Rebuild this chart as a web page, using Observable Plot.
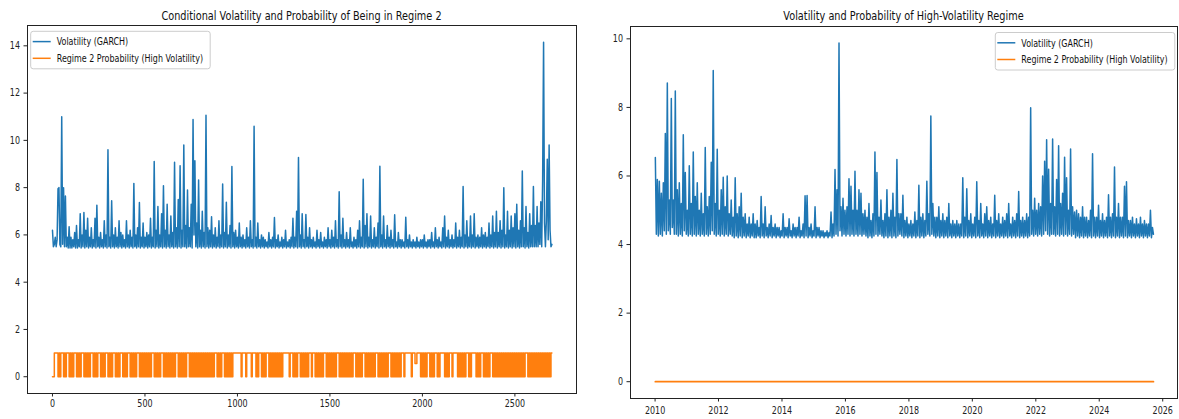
<!DOCTYPE html>
<html><head><meta charset="utf-8">
<script src="https://cdn.jsdelivr.net/npm/d3@7"></script>
<script src="https://cdn.jsdelivr.net/npm/@observablehq/plot@0.6"></script>
<style>
html,body{margin:0;padding:0;background:#fff;}
#wrap{position:relative;width:1179px;height:419px;overflow:hidden;background:#fff;font-family:"DejaVu Sans",sans-serif;}
#wrap > svg{position:absolute;top:0;}
</style></head><body><div id="wrap"></div>
<script>
// ---------- texts ----------
const leftTitle = "Conditional Volatility and Probability of Being in Regime 2";
const rightTitle = "Volatility and Probability of High-Volatility Regime";
const seriesNames = ["Volatility (GARCH)", "Regime 2 Probability (High Volatility)"];
const seriesColors = ["#1f77b4", "#ff7f0e"];

// ---------- left panel: observation index (every 5th obs) ----------
const leftXTicks = [0, 500, 1000, 1500, 2000, 2500];
const leftYTicks = [0, 2, 4, 6, 8, 10, 12, 14];
const leftStep = 5;
const leftVolatility = [
6.2,5.5,5.6,5.9,5.5,5.8,7.95,8.0,5.6,5.5,11.0,5.6,8.0,5.5,7.65,5.5,5.9,5.45,6.35,5.45,
5.9,5.45,5.8,5.5,6.1,5.45,6.4,5.45,5.8,5.5,6.9,5.45,6.0,5.5,6.95,5.45,6.2,5.5,6.7,5.45,
5.9,5.5,6.3,5.45,5.8,5.5,6.7,5.45,7.26,5.5,5.9,5.45,6.1,5.5,5.8,5.45,6.6,5.5,6.0,5.45,
9.6,5.5,5.9,5.45,7.44,5.5,6.0,5.45,6.3,5.5,5.9,5.45,6.6,5.5,6.1,5.45,6.0,5.5,5.8,5.45,
6.6,5.5,6.0,5.45,6.2,5.5,5.9,5.45,8.18,5.5,6.0,5.45,6.3,5.5,7.37,5.45,5.9,5.5,6.5,5.45,
5.9,5.5,6.1,5.45,6.0,5.5,6.7,5.45,5.9,5.5,9.11,5.45,6.2,5.5,7.2,5.45,6.0,5.5,6.9,5.45,
8.08,5.5,6.2,5.45,7.3,5.5,6.0,5.45,6.8,5.5,6.1,5.45,9.07,5.5,6.3,5.45,7.5,5.5,8.93,5.45,
6.2,5.5,9.8,5.5,6.4,5.45,7.9,5.5,6.3,5.5,7.3,5.45,10.88,6.0,9.14,5.5,6.5,5.45,8.32,5.5,
6.2,5.45,7.0,5.5,6.1,5.45,11.06,5.5,6.3,5.45,6.2,5.5,6.77,5.45,6.0,5.5,6.3,5.45,5.9,5.5,
6.6,5.45,6.0,5.5,8.15,5.45,6.1,5.5,7.38,5.45,6.0,5.5,6.4,5.45,8.89,5.5,6.1,5.45,6.2,5.5,
5.9,5.45,6.5,5.5,5.9,5.45,6.0,5.5,5.8,5.45,6.3,5.5,5.9,5.45,6.6,5.5,5.8,5.45,10.6,5.5,
5.9,5.45,6.5,5.5,5.8,5.45,6.0,5.5,5.9,5.45,5.8,5.5,5.7,5.45,6.1,5.5,5.8,5.45,5.9,5.5,
6.74,5.45,5.8,5.5,6.0,5.45,5.7,5.5,5.9,5.45,5.8,5.5,6.2,5.45,5.7,5.5,5.8,5.45,5.9,5.5,
6.7,5.45,5.9,5.5,7.0,5.45,9.28,5.5,6.0,5.45,6.9,5.5,5.8,5.45,6.86,5.5,5.9,5.45,6.3,5.5,
5.8,5.45,5.9,5.5,5.7,5.45,6.2,5.5,5.8,5.45,6.1,5.5,5.7,5.45,5.9,5.5,5.8,5.45,6.3,5.5,
5.8,5.45,6.2,5.5,5.9,5.45,6.6,5.5,5.8,5.45,7.83,5.5,6.0,5.45,6.7,5.5,5.8,5.45,6.1,5.5,
5.8,5.45,6.3,5.5,5.7,5.45,5.9,5.5,5.8,5.45,6.2,5.5,6.6,5.45,5.9,5.5,8.35,5.45,6.4,5.5,
6.9,5.45,5.9,5.5,6.8,5.45,5.8,5.5,6.3,5.45,5.9,5.5,6.5,5.45,8.9,5.5,6.0,5.45,6.8,5.5,
5.8,5.45,6.4,5.5,5.9,5.45,6.2,5.5,5.8,5.45,6.85,5.5,5.7,5.45,6.1,5.5,5.8,5.45,5.8,5.5,
5.7,5.45,6.75,5.5,5.8,5.45,6.0,5.5,5.7,5.45,5.8,5.5,5.7,5.45,5.9,5.5,5.7,5.45,5.8,5.5,
5.8,5.45,6.0,5.5,5.7,5.45,5.8,5.5,5.8,5.45,6.1,5.5,5.7,5.45,6.3,5.5,5.8,5.45,5.9,5.5,
5.7,5.45,6.3,5.5,6.8,5.45,5.9,5.5,6.2,5.45,5.8,5.5,6.0,5.45,5.8,5.5,6.5,5.45,5.9,5.5,
6.2,5.45,5.9,5.5,8.05,5.45,6.0,5.5,6.6,5.45,5.9,5.5,6.8,5.45,6.0,5.5,6.9,5.45,5.9,5.5,
6.0,5.45,5.9,5.5,6.3,5.45,6.0,5.5,6.1,5.45,5.9,5.5,6.5,5.45,6.0,5.5,6.8,5.45,6.1,5.5,
7.0,5.45,6.1,5.5,6.6,5.45,6.2,5.5,8.0,5.45,6.0,5.5,7.0,5.45,6.2,5.5,6.8,5.45,6.3,5.5,
6.9,5.45,7.3,5.5,6.2,5.45,6.6,5.5,8.7,5.5,6.3,5.45,7.2,5.5,6.1,5.45,6.9,5.5,6.4,5.5,
8.05,5.5,6.4,5.5,7.2,5.5,6.5,5.6,7.4,5.5,8.36,14.15,6.5,5.5,6.6,9.2,5.8,9.8,6.2,5.5,
5.6
];
// regime-2 probability, one digit per 5 obs: 0 -> 0.0 ... 9 -> 1.0
const leftRegimeCodes = [
"00999909099909099909","09099909090999090909","09990909099909090999",
"09090999090909990909","09990909090999090909","09090909990909090999",
"09090909090909990909","09090999090909090909","09090909090909099909",
"09099909090909099999","99990999909999909999","09099909090999090909",
"09090909099999990999","09090999090909090999","09990909090909990909",
"09090909990909090909","09090999090909099909","09090909099909090909",
"09099909090909090999","09999999099955999909","09090999090909990909",
"99990909099909999909","09090909990909999909","09099909090909990909",
"09090909090909090909","09090909090999090909","09090909090909090909",
"9"
];

// ---------- right panel: dates ----------
const rightStart = "2010-01-04";
const rightEnd = "2025-09-16";
const rightXDomain = ["2009-03-24", "2026-06-20"];
const rightXTicks = ["2010","2012","2014","2016","2018","2020","2022","2024","2026"];
const rightYTicks = [0, 2, 4, 6, 8, 10];
const rightVolatility = [
6.54,4.3,5.9,4.25,5.85,4.3,5.5,4.25,5.8,4.4,7.24,4.3,8.71,4.4,5.3,4.3,8.26,4.5,5.3,4.3,
8.48,4.3,5.6,4.25,5.8,4.3,5.2,4.25,7.2,4.4,6.1,4.3,5.0,4.25,6.3,4.3,5.2,4.25,6.7,4.3,
5.4,4.25,5.8,4.3,5.0,4.25,5.5,4.3,4.9,4.25,6.83,4.3,5.1,4.25,5.4,4.3,6.4,4.4,9.08,4.3,
5.2,4.25,6.78,4.3,5.0,4.25,5.6,4.3,5.96,4.25,5.1,4.3,6.0,4.25,4.9,4.3,5.3,4.25,4.8,4.2,
5.95,4.25,4.9,4.2,5.1,4.25,5.5,4.2,4.8,4.25,4.9,4.2,4.6,4.25,4.8,4.2,4.6,4.25,4.9,4.2,
4.6,4.2,4.7,4.25,4.5,4.2,5.4,4.25,4.6,4.2,5.1,4.25,4.5,4.2,4.6,4.25,4.85,4.2,4.5,4.25,
4.6,4.2,4.5,4.25,4.5,4.2,4.4,4.25,4.9,4.2,4.5,4.25,4.5,4.2,4.75,4.25,4.4,4.2,4.6,4.25,
4.5,4.2,4.5,4.25,4.8,4.2,4.4,4.25,4.6,4.2,5.42,4.25,5.43,4.2,4.5,4.25,4.6,4.2,4.4,4.25,
5.1,4.2,4.5,4.25,4.5,4.2,4.4,4.25,4.4,4.2,4.35,4.25,4.4,4.2,4.35,4.25,4.95,4.2,4.6,4.25,
6.19,4.3,5.6,4.25,9.88,4.4,5.1,4.25,5.35,4.3,5.0,4.25,5.1,4.3,5.92,4.25,5.7,4.3,5.0,4.25,
6.14,4.3,5.0,4.25,5.6,4.3,5.5,4.25,4.9,4.3,5.0,4.25,4.8,4.2,5.2,4.25,4.7,4.2,4.9,4.25,
6.7,4.3,6.1,4.25,4.8,4.3,5.3,4.25,4.7,4.2,4.9,4.25,5.6,4.2,4.8,4.25,5.0,4.2,5.5,4.25,
4.8,4.2,6.48,4.25,4.9,4.3,4.9,4.25,5.44,4.2,4.7,4.25,4.8,4.2,4.6,4.25,4.7,4.2,4.6,4.25,
4.95,4.2,4.7,4.25,5.73,4.2,4.8,4.25,4.9,4.2,4.7,4.25,5.85,4.3,4.9,4.25,7.75,4.3,5.2,4.25,
4.8,4.2,4.8,4.25,5.1,4.2,4.7,4.25,4.9,4.2,4.7,4.25,4.8,4.2,5.2,4.25,4.6,4.2,4.7,4.25,
4.6,4.2,4.7,4.25,4.6,4.2,4.6,4.25,5.95,4.2,4.8,4.25,5.63,4.2,4.7,4.25,4.9,4.2,4.6,4.25,
4.8,4.2,5.83,4.25,4.7,4.2,5.2,4.25,4.6,4.2,4.9,4.25,5.1,4.2,4.7,4.25,4.8,4.2,4.6,4.25,
5.44,4.2,4.7,4.25,4.9,4.2,4.6,4.25,4.8,4.2,4.7,4.25,4.9,4.2,5.2,4.25,4.6,4.2,4.8,4.25,
4.7,4.2,4.9,4.25,5.55,4.2,4.7,4.25,4.8,4.2,4.7,4.25,4.9,4.2,4.8,4.25,7.99,4.3,5.0,4.25,
5.35,4.3,5.0,4.25,5.2,4.3,5.1,4.25,6.0,4.3,6.43,4.4,7.06,4.3,6.2,4.25,5.2,4.3,7.08,4.3,
5.1,4.25,5.9,4.3,6.88,4.25,5.2,4.3,5.5,4.25,6.55,4.3,5.95,4.25,5.0,4.3,6.79,4.25,5.1,4.3,
4.95,4.2,5.0,4.25,4.9,4.2,4.8,4.25,5.1,4.2,4.8,4.25,4.8,4.2,4.7,4.25,5.0,4.2,6.65,4.25,
4.8,4.2,4.8,4.25,5.15,4.2,4.7,4.25,4.9,4.2,4.7,4.25,4.8,4.2,5.45,4.25,4.8,4.2,4.9,4.25,
6.26,4.2,4.8,4.25,5.2,4.2,4.8,4.25,4.8,4.2,5.7,4.25,5.83,4.2,4.7,4.25,4.7,4.2,4.8,4.25,
4.6,4.2,4.75,4.25,4.6,4.2,4.8,4.25,4.6,4.2,4.7,4.25,4.6,4.2,4.6,4.25,5.0,4.2,4.5,4.3
];
const rightProbDates = ["2010-01-04", "2025-09-16"];
const rightProb = [0, 0];

// ---------- build tables ----------
const leftVolData = leftVolatility.map((v, i) => ({x: i * leftStep, y: v}));
const leftProbData = leftRegimeCodes.join("").split("").map((c, i) => ({x: i * leftStep, y: +c / 9}));
const t0 = new Date(rightStart).getTime(), t1 = new Date(rightEnd).getTime();
const rightVolData = rightVolatility.map((v, i) => ({x: new Date(t0 + (t1 - t0) * i / (rightVolatility.length - 1)), y: v}));
const rightProbData = rightProb.map((v, i) => ({x: new Date(rightProbDates[i]), y: v}));

const SX = 0.76; // horizontal squeeze of the reference's text
function squeeze(svg) {
  svg.querySelectorAll("text").forEach(t => {
    const tr = t.getAttribute("transform");
    if (tr) t.setAttribute("transform", tr + ` scale(${SX},1)`);
    else {
      const x = +(t.getAttribute("x") || 0), y = +(t.getAttribute("y") || 0);
      t.removeAttribute("x"); t.removeAttribute("y");
      t.setAttribute("transform", `translate(${x},${y}) scale(${SX},1)`);
    }
  });
}
const baseStyle = {fontFamily: "DejaVu Sans", fontSize: "10.5px", color: "#222", background: "transparent", overflow: "visible"};

const wrap = document.getElementById("wrap");

const left = Plot.plot({
  width: 590, height: 419,
  marginLeft: 27, marginRight: 14, marginTop: 25, marginBottom: 26,
  style: baseStyle,
  x: {domain: [-135, 2833], ticks: leftXTicks, tickFormat: d3.format("d"), tickSize: 3.5, tickPadding: 3, label: null},
  y: {domain: [-0.71, 14.86], ticks: leftYTicks, tickSize: 3.5, tickPadding: 4, label: null},
  marks: [
    Plot.lineY(leftVolData, {x: "x", y: "y", stroke: seriesColors[0], strokeWidth: 1.5}),
    Plot.lineY(leftProbData, {x: "x", y: "y", stroke: seriesColors[1], strokeWidth: 1.5, curve: "step-after"}),
    Plot.frame({stroke: "#222", strokeWidth: 1})
  ]
});
left.style.left = "0px";
squeeze(left);
wrap.appendChild(left);

const right = Plot.plot({
  width: 589, height: 419,
  marginLeft: 40, marginRight: 2, marginTop: 26, marginBottom: 21,
  style: baseStyle,
  x: {type: "utc", domain: rightXDomain.map(d => new Date(d)), ticks: rightXTicks.map(d => new Date(d)), tickFormat: d3.utcFormat("%Y"), tickSize: 3.5, tickPadding: 5, label: null},
  y: {domain: [-0.49, 10.36], ticks: rightYTicks, tickSize: 3.5, tickPadding: 4, label: null},
  marks: [
    Plot.lineY(rightVolData, {x: "x", y: "y", stroke: seriesColors[0], strokeWidth: 1.5}),
    Plot.lineY(rightProbData, {x: "x", y: "y", stroke: seriesColors[1], strokeWidth: 1.8}),
    Plot.frame({stroke: "#222", strokeWidth: 1})
  ]
});
right.style.left = "590px";
squeeze(right);
wrap.appendChild(right);

// ---------- titles and legends overlay ----------
const ov = d3.create("svg").attr("width", 1179).attr("height", 419)
  .style("position", "absolute").style("left", "0px").style("top", "0px")
  .style("font-family", "DejaVu Sans").style("pointer-events", "none");
[[leftTitle, 301.5], [rightTitle, 903.5]].forEach(([t, cx]) => {
  ov.append("text").attr("transform", `translate(${cx},19.5) scale(${SX},1)`)
    .attr("text-anchor", "middle").attr("font-size", 12.8).attr("fill", "#111").text(t);
});
function legend(x, y) {
  const g = ov.append("g");
  g.append("rect").attr("x", x).attr("y", y).attr("width", 179.5).attr("height", 37.5).attr("rx", 2.5)
    .attr("fill", "#fff").attr("fill-opacity", 0.8).attr("stroke", "#ccc").attr("stroke-width", 1);
  seriesNames.forEach((name, i) => {
    const ly = y + 10.3 + i * 16.7;
    g.append("line").attr("x1", x + 2).attr("x2", x + 20).attr("y1", ly).attr("y2", ly)
      .attr("stroke", seriesColors[i]).attr("stroke-width", 1.5);
    g.append("text").attr("transform", `translate(${x + 26},${ly + 3.8}) scale(${SX},1)`)
      .attr("font-size", 10.5).attr("fill", "#111").text(name);
  });
}
legend(30.7, 31.3);
legend(995.3, 32.5);
wrap.appendChild(ov.node());
</script>
</body></html>
